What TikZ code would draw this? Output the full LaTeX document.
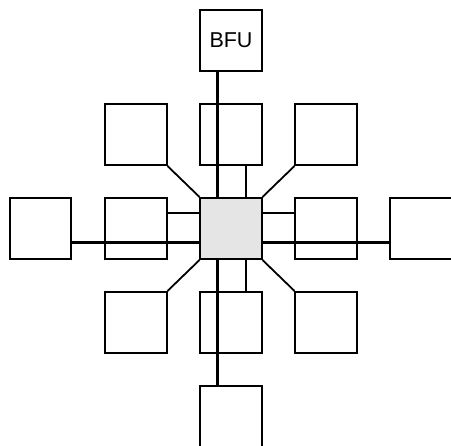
\documentclass[tikz,border=0pt]{standalone}
\usepackage{fontspec}
\setmainfont{Liberation Sans}
\definecolor{hubgray}{HTML}{E5E5E5}
\begin{document}
\begin{tikzpicture}[x=1pt,y=-1pt,
  unit/.style={draw=black, line width=1.6pt, minimum size=61.5pt, inner sep=0pt,
    font=\fontsize{21.5}{25}\selectfont},
  hub/.style={unit, fill=hubgray},
  bus/.style={line width=3pt, black},
  link/.style={line width=1.8pt, black}]
\clip (0,0) rectangle (451,446);
\useasboundingbox (0,0) rectangle (451,446);
% outer ring of units
\node[unit] (bfu) at (231,40.5) {BFU};
\node[unit] (tl) at (136,134.5) {};
\node[unit] (tc) at (231,134.5) {};
\node[unit] (tr) at (326,134.5) {};
\node[unit] (ll) at (40.5,228.5) {};
\node[unit] (ml) at (136,228.5) {};
\node[hub]  (c)  at (231,228.5) {};
\node[unit] (mr) at (326,228.5) {};
\node[unit] (rr) at (421,228.5) {};
\node[unit] (bl) at (136,322.5) {};
\node[unit] (bc) at (231,322.5) {};
\node[unit] (br) at (326,322.5) {};
\node[unit] (bot) at (231,416.5) {};
% thin links to the hub
\draw[link] ([xshift=15pt]tc.south) -- ([xshift=15pt]c.north);
\draw[link] ([xshift=15pt]c.south) -- ([xshift=15pt]bc.north);
\draw[link] ([yshift=15.5pt]ml.east) -- ([yshift=15.5pt]c.west);
\draw[link] ([yshift=15.5pt]c.east) -- ([yshift=15.5pt]mr.west);
\draw[link] (tl.south east) -- (c.north west);
\draw[link] (tr.south west) -- (c.north east);
\draw[link] (bl.north east) -- (c.south west);
\draw[link] (br.north west) -- (c.south east);
% main buses
\draw[bus] ([xshift=-14pt]bfu.south) -- ([xshift=-14pt]c.north);
\draw[bus] ([xshift=-14pt]c.south) -- ([xshift=-14pt]bot.north);
\draw[bus] ([yshift=-14pt]ll.east) -- ([yshift=-14pt]c.west);
\draw[bus] ([yshift=-14pt]c.east) -- ([yshift=-14pt]rr.west);
\end{tikzpicture}
\end{document}
